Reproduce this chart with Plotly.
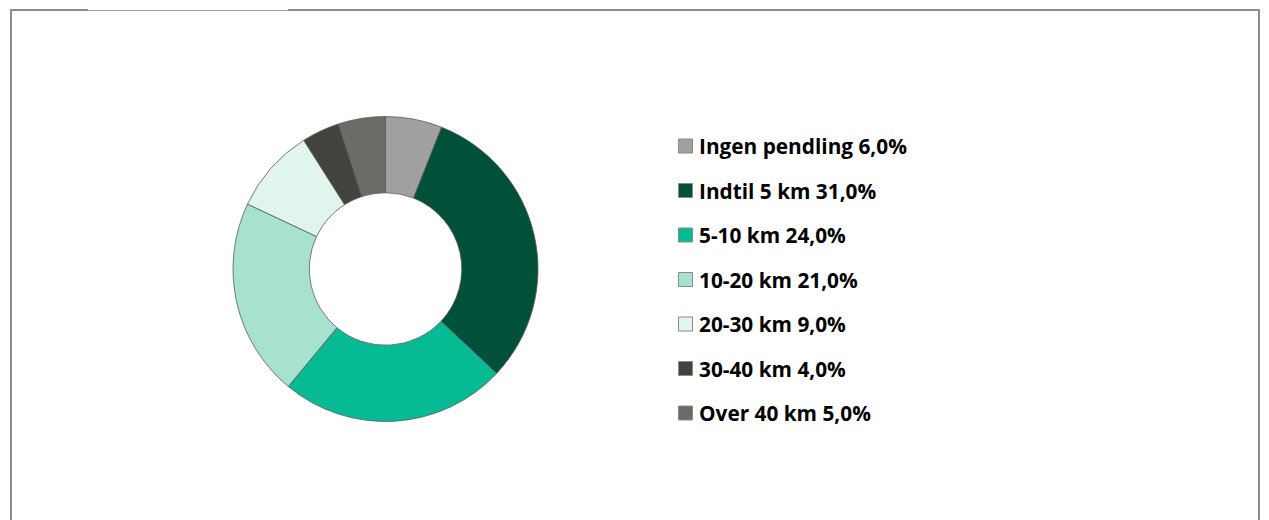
import plotly.graph_objects as go

labels = ["Ingen pendling", "Indtil 5 km", "5-10 km", "10-20 km", "20-30 km", "30-40 km", "Over 40 km"]
values = [6.0, 31.0, 24.0, 21.0, 9.0, 4.0, 5.0]
colors = ["#A0A0A0", "#00503A", "#06BA94", "#A6E2CF", "#E0F5EC", "#43433E", "#6B6C66"]

W, H = 1269, 520

def px_x(x):
    return x / W

def px_y(y):
    return 1 - y / H

fig = go.Figure()
fig.add_trace(go.Pie(
    labels=labels, values=values, sort=False, direction="clockwise", rotation=0,
    hole=0.5, textinfo="none", hoverinfo="label+percent",
    marker=dict(colors=colors, line=dict(color="#5A5A5A", width=0.8)),
    domain=dict(x=[px_x(233), px_x(538)], y=[px_y(422), px_y(116)]),
    showlegend=False,
))

shapes = []
annotations = []
# legend built from data arrays
y0, dy = 146, 44.5
for i, (lab, val, col) in enumerate(zip(labels, values, colors)):
    yc = y0 + i * dy
    shapes.append(dict(type="rect", xref="paper", yref="paper",
                       x0=px_x(678.5), x1=px_x(692.5), y0=px_y(yc - 7), y1=px_y(yc + 7),
                       fillcolor=col, line=dict(color="#8A8A8A", width=1)))
    txt = f"{lab} {val:.1f}%".replace(".", ",")
    annotations.append(dict(text=txt, xref="paper", yref="paper", x=px_x(697), y=px_y(yc),
                            xanchor="left", yanchor="middle", showarrow=False,
                            font=dict(family="Open Sans", size=20.8, color="#000000", weight="bold")))

# outer frame lines
border = "#8C8C8C"
shapes += [
    dict(type="line", xref="paper", yref="paper", x0=px_x(11), x1=px_x(11), y0=px_y(10), y1=px_y(525),
         line=dict(color=border, width=2)),
    dict(type="line", xref="paper", yref="paper", x0=px_x(1259), x1=px_x(1259), y0=px_y(10), y1=px_y(525),
         line=dict(color=border, width=2)),
    dict(type="line", xref="paper", yref="paper", x0=px_x(10), x1=px_x(88), y0=px_y(10), y1=px_y(10),
         line=dict(color=border, width=2)),
    dict(type="line", xref="paper", yref="paper", x0=px_x(88), x1=px_x(288), y0=px_y(10.5), y1=px_y(10.5),
         line=dict(color="#A0A0A0", width=1)),
    dict(type="line", xref="paper", yref="paper", x0=px_x(288), x1=px_x(1260), y0=px_y(10), y1=px_y(10),
         line=dict(color=border, width=2)),
]

fig.update_layout(
    width=W, height=H, margin=dict(l=0, r=0, t=0, b=0),
    paper_bgcolor="white", plot_bgcolor="white",
    shapes=shapes, annotations=annotations,
)
fig.write_html("out.html", config={"displayModeBar": False},
               post_script="document.body.style.margin='0';document.body.style.overflow='hidden';")
